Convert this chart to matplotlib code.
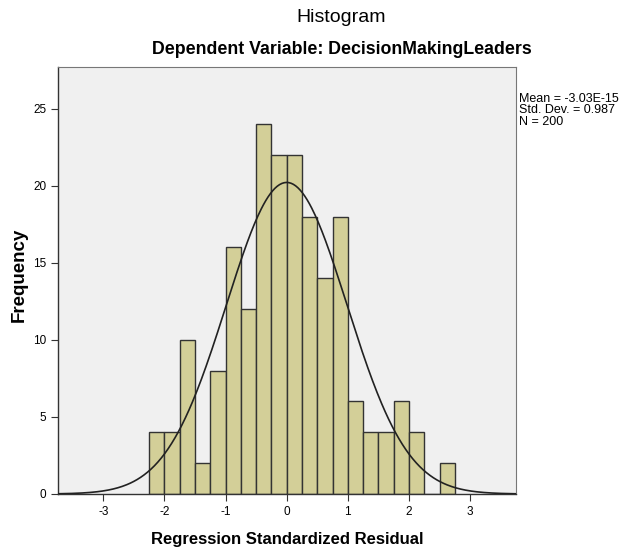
import numpy as np
import matplotlib.pyplot as plt

# histogram of regression standardized residuals
bin_edges = np.arange(-2.25, 2.76, 0.25)
counts = [4, 4, 10, 2, 8, 16, 12, 24, 22, 22, 18, 14, 18, 6, 4, 4, 6, 4, 0, 2]
mean = -3.03e-15
std = 0.987
n = 200

plt.rcParams.update({
    "font.family": ["Liberation Sans", "DejaVu Sans"],
    "axes.unicode_minus": False,
})

fig = plt.figure(figsize=(6.19, 5.49), dpi=100)
ax = fig.add_axes([0.0937, 0.1002, 0.7399, 0.7778])
ax.set_facecolor("#f0f0f0")

widths = np.diff(bin_edges)
ax.bar(bin_edges[:-1], counts, width=widths, align="edge",
       color="#d3cf98", edgecolor="#333333", linewidth=1.0, zorder=2)

# normal curve scaled to the histogram
binw = 0.25
xx = np.linspace(-3.74, 3.75, 400)
yy = n * binw / (std * np.sqrt(2 * np.pi)) * np.exp(-0.5 * ((xx - mean) / std) ** 2)
ax.plot(xx, yy, color="#222222", linewidth=1.2, zorder=3)

ax.set_xlim(-3.74, 3.75)
ax.set_ylim(0, 27.7)
ax.set_xticks([-3, -2, -1, 0, 1, 2, 3])
ax.set_yticks([0, 5, 10, 15, 20, 25])
ax.tick_params(direction="out", length=5, labelsize=8.5, color="#333333")

for s in ["top", "right"]:
    ax.spines[s].set_color("#777777")
for s in ["left", "bottom"]:
    ax.spines[s].set_color("#333333")
    ax.spines[s].set_linewidth(1.0)

ax.set_xlabel("Regression Standardized Residual", fontsize=12,
              fontweight="bold", labelpad=10)
ax.set_ylabel("Frequency", fontsize=13.5, fontweight="bold", va="center")
ax.yaxis.set_label_coords(-0.085, 0.513)

fig.text(0.551, 0.969, "Histogram", ha="center", va="center", fontsize=14)
fig.text(0.552, 0.909, "Dependent Variable: DecisionMakingLeaders",
         ha="center", va="center", fontsize=12.8, fontweight="bold")

fig.text(0.8385, 0.799,
         f"Mean = -3.03E-15\nStd. Dev. = {std}\nN = {n}",
         ha="left", va="center", fontsize=9, linespacing=0.96)

plt.savefig("out.png", dpi=100)
